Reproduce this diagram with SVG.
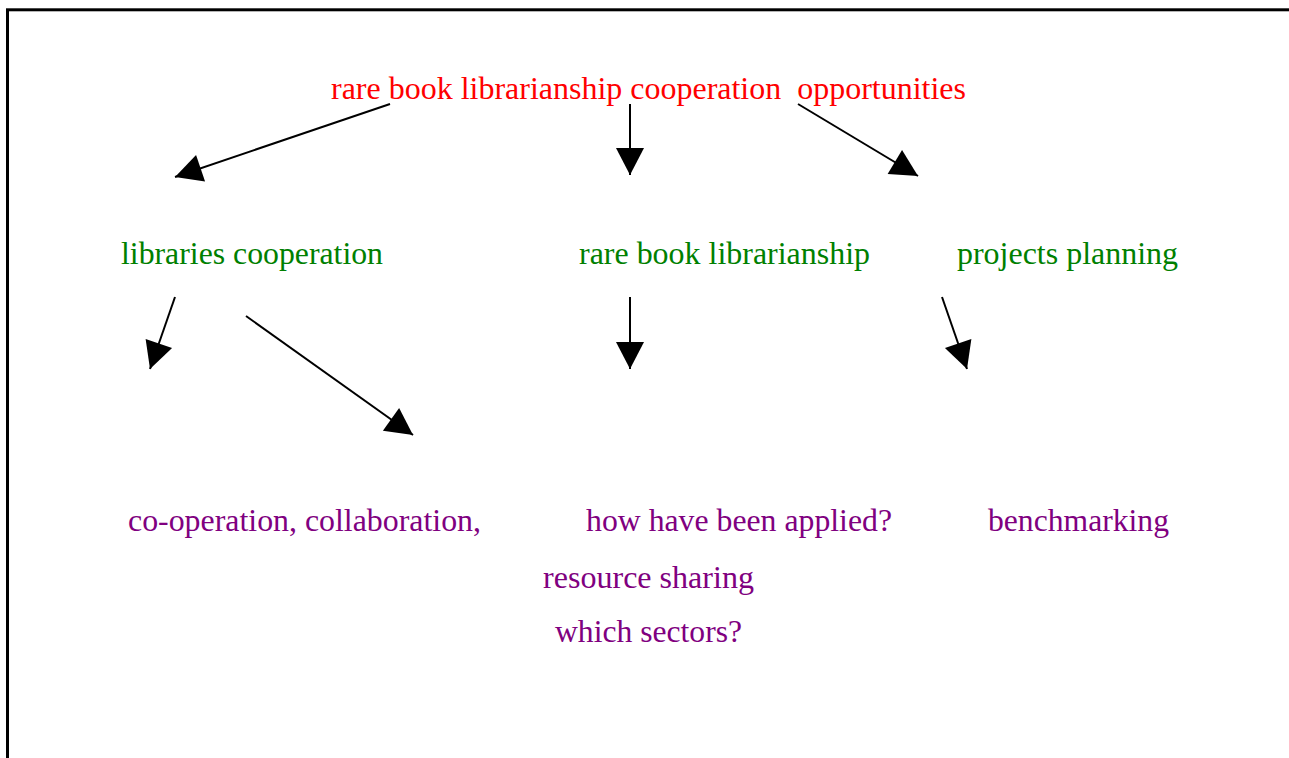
<svg xmlns="http://www.w3.org/2000/svg" width="1289" height="758" viewBox="0 0 1289 758">
  <defs>
    <style>
      text { font-family: "Liberation Serif", "Times New Roman", serif; font-size: 32px; white-space: pre; }
      .root { fill: #ff0000; }
      .topic { fill: #008000; }
      .leaf { fill: #800080; }
      .edge { stroke: #000000; stroke-width: 2; fill: none; marker-end: url(#head); }
    </style>
    <marker id="head" markerUnits="userSpaceOnUse" markerWidth="29" markerHeight="29" refX="27" refY="14" orient="auto" overflow="visible">
      <path d="M0,0 L27,14 L0,28 Z" fill="#000000"/>
    </marker>
  </defs>

  <rect width="1289" height="758" fill="#ffffff"/>
  <!-- page frame, open to the right and bottom -->
  <rect x="7.5" y="9.8" width="1320" height="800" fill="none" stroke="#000000" stroke-width="3"/>

  <g id="connectors">
    <line class="edge" x1="390" y1="104" x2="175" y2="177"/>
    <line class="edge" x1="630" y1="104" x2="630" y2="175"/>
    <line class="edge" x1="798" y1="104" x2="918" y2="176"/>
    <line class="edge" x1="175" y1="297" x2="150" y2="369"/>
    <line class="edge" x1="246" y1="316" x2="413" y2="435"/>
    <line class="edge" x1="630" y1="297" x2="630" y2="369"/>
    <line class="edge" x1="942" y1="297" x2="967" y2="369"/>
  </g>

  <g id="node-root">
    <text class="root" x="331" y="99" textLength="635" lengthAdjust="spacingAndGlyphs">rare book librarianship cooperation  opportunities</text>
  </g>
  <g id="node-libraries-cooperation">
    <text class="topic" x="121" y="264" textLength="262" lengthAdjust="spacingAndGlyphs">libraries cooperation</text>
  </g>
  <g id="node-rare-book-librarianship">
    <text class="topic" x="579" y="264" textLength="291" lengthAdjust="spacingAndGlyphs">rare book librarianship</text>
  </g>
  <g id="node-projects-planning">
    <text class="topic" x="957" y="264" textLength="221" lengthAdjust="spacingAndGlyphs">projects planning</text>
  </g>
  <g id="node-co-operation">
    <text class="leaf" x="128" y="531" textLength="353" lengthAdjust="spacingAndGlyphs">co-operation, collaboration,</text>
  </g>
  <g id="node-how-applied">
    <text class="leaf" x="586" y="531" textLength="306" lengthAdjust="spacingAndGlyphs">how have been applied?</text>
  </g>
  <g id="node-benchmarking">
    <text class="leaf" x="988" y="531" textLength="181" lengthAdjust="spacingAndGlyphs">benchmarking</text>
  </g>
  <g id="node-resource-sharing">
    <text class="leaf" x="543" y="588" textLength="211" lengthAdjust="spacingAndGlyphs">resource sharing</text>
  </g>
  <g id="node-which-sectors">
    <text class="leaf" x="555" y="642" textLength="187" lengthAdjust="spacingAndGlyphs">which sectors?</text>
  </g>
</svg>
